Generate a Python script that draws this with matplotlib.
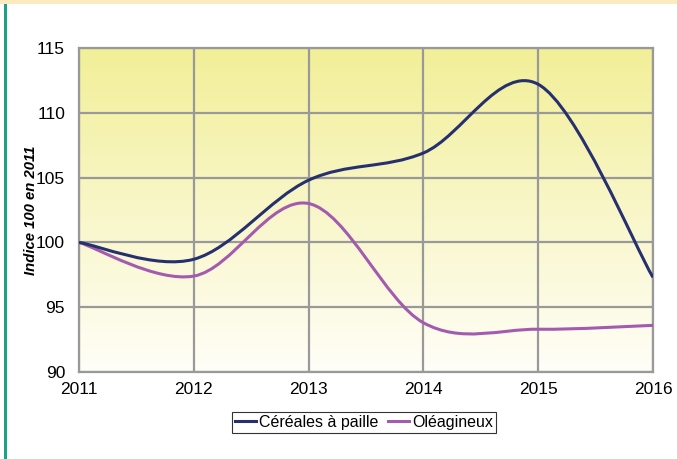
import numpy as np
import matplotlib.pyplot as plt
from matplotlib.path import Path
from matplotlib.patches import PathPatch, Rectangle
from matplotlib.lines import Line2D

plt.rcParams['font.family'] = ['Liberation Sans', 'DejaVu Sans']

years = [2011, 2012, 2013, 2014, 2015, 2016]
cereales = [100.0, 98.7, 104.8, 106.9, 112.2, 97.3]
oleagineux = [100.0, 97.4, 103.0, 93.8, 93.3, 93.6]
yticks = [90, 95, 100, 105, 110, 115]

c_cer = '#27306f'
c_ole = '#a35bb0'


def smooth_path(xs, ys, t=1/6):
    # bezier through the points, like the spreadsheet "smoothed line"
    xs = np.asarray(xs, float); ys = np.asarray(ys, float)
    n = len(xs)
    verts = [(xs[0], ys[0])]
    codes = [Path.MOVETO]
    for i in range(n - 1):
        i0 = max(i - 1, 0); i3 = min(i + 2, n - 1)
        c1 = (xs[i] + (xs[i+1] - xs[i0]) * t, ys[i] + (ys[i+1] - ys[i0]) * t)
        c2 = (xs[i+1] - (xs[i3] - xs[i]) * t, ys[i+1] - (ys[i3] - ys[i]) * t)
        verts += [c1, c2, (xs[i+1], ys[i+1])]
        codes += [Path.CURVE4] * 3
    return Path(verts, codes)


fig = plt.figure(figsize=(6.77, 4.59), dpi=100)
ax = fig.add_axes([79/677, 1 - 372/459, (653-79)/677, (372-48)/459])

# background gradient yellow -> white
top = np.array([242, 239, 152]) / 255
bot = np.array([255, 254, 248]) / 255
g = np.linspace(0, 1, 256)[:, None]
grad = top[None, :] * (1 - g) + bot[None, :] * g
ax.imshow(grad[:, None, :], extent=[years[0], years[-1], yticks[0], yticks[-1]],
          aspect='auto', origin='upper', zorder=0)

ax.set_xlim(years[0], years[-1])
ax.set_ylim(yticks[0], yticks[-1])
ax.set_xticks(years)
ax.set_yticks(yticks)
ax.grid(True, color='#999999', linewidth=1.6, zorder=1)
ax.set_axisbelow(False)
for s in ax.spines.values():
    s.set_color('#999999')
    s.set_linewidth(1.6)
    s.set_zorder(1)
ax.tick_params(length=0, labelsize=12.5, pad=7)
ax.tick_params(axis='y', pad=10)

for vals, col in [(oleagineux, c_ole), (cereales, c_cer)]:
    ax.add_patch(PathPatch(smooth_path(years, vals), facecolor='none',
                           edgecolor=col, linewidth=2.2, zorder=3))

ax.set_ylabel('Indice 100 en 2011', fontsize=10.7, fontweight='bold',
              fontstyle='italic')
ax.yaxis.set_label_coords(-0.072, 0.5)

handles = [Line2D([], [], color=c_cer, lw=2.2), Line2D([], [], color=c_ole, lw=2.2)]
leg = ax.legend(handles, ['Céréales à paille', 'Oléagineux'], loc='upper center',
                bbox_to_anchor=(0.497, -0.123), ncol=2, frameon=True, fancybox=False,
                fontsize=11.5, handlelength=1.3, handletextpad=0.2, columnspacing=0.6,
                borderpad=0.2, borderaxespad=0)
leg.get_frame().set_edgecolor('black')
leg.get_frame().set_linewidth(0.8)

# frame decorations: top band and green left bar
fig.patches.append(Rectangle((0, 1 - 4/459), 1, 4/459, transform=fig.transFigure,
                             facecolor='#fdebc0', edgecolor='none'))
fig.patches.append(Rectangle((4/677, 0), 3/677, 1 - 4/459, transform=fig.transFigure,
                             facecolor='#1aa384', edgecolor='none'))

fig.savefig('out.png', dpi=100)
